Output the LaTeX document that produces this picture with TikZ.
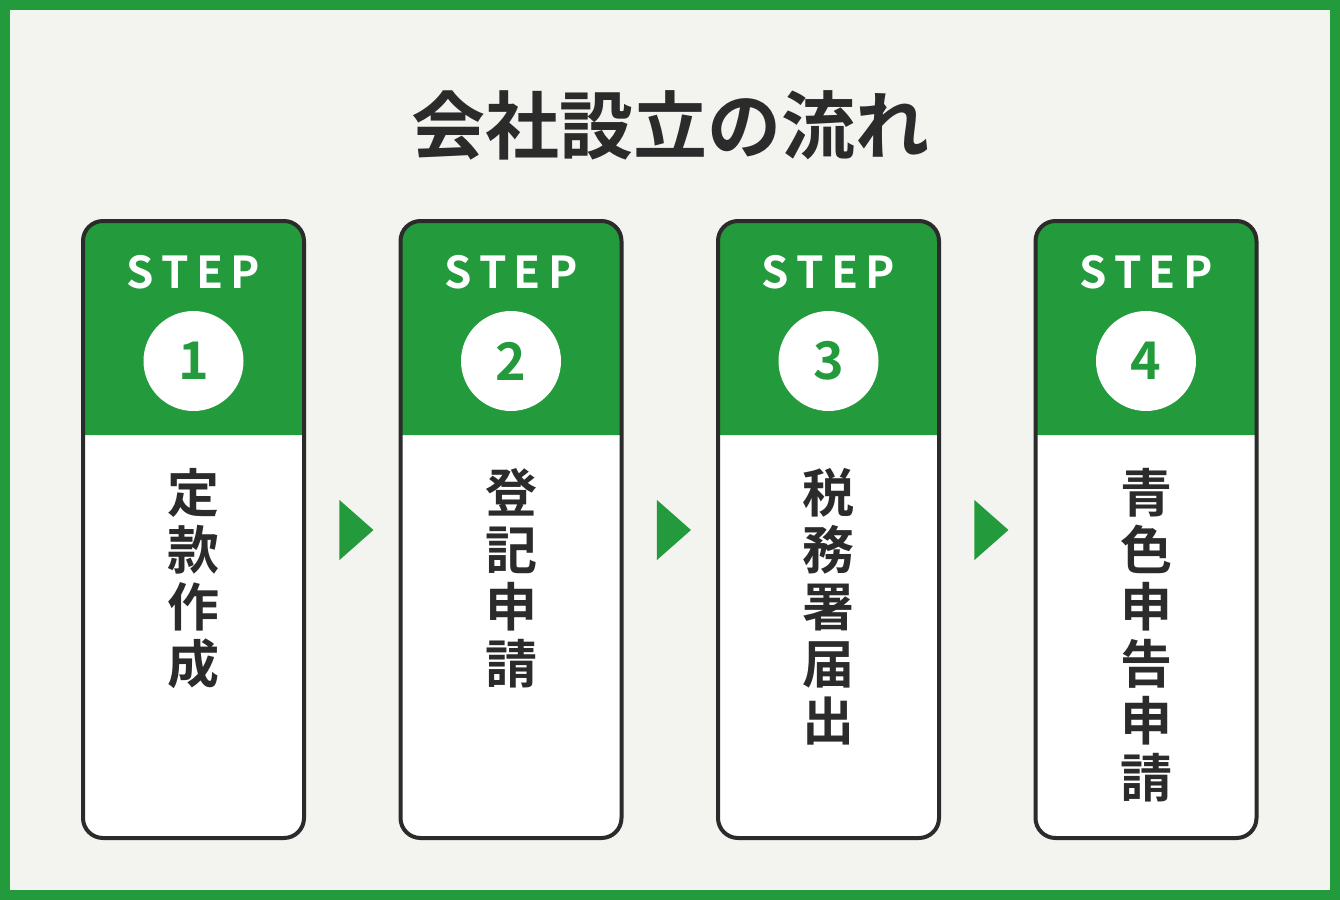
\documentclass[tikz,border=0pt]{standalone}
\usepackage{fontspec}
\newfontfamily\jp{Noto Sans CJK JP}[UprightFont=* Bold]
\usetikzlibrary{positioning,shapes.geometric}
\definecolor{stepgreen}{HTML}{239A3B}
\definecolor{paper}{HTML}{F3F3EF}
\definecolor{ink}{HTML}{2B2B2B}
\tikzset{
  stepnum/.style={circle,fill=white,minimum size=50pt,inner sep=0pt,text=stepgreen,font=\jp\fontsize{26}{26}\selectfont},
  steplabel/.style={text=white,font=\jp\fontsize{22}{22}\selectfont},
  vtext/.style={text=ink,align=center,anchor=north,inner sep=0pt,font=\jp\fontsize{26}{28.5}\selectfont},
  nextarrow/.style={isosceles triangle,fill=stepgreen,minimum height=17pt,minimum width=30pt,inner sep=0pt,isosceles triangle stretches}
}
\begin{document}
\begin{tikzpicture}[x=0.5pt,y=-0.5pt]
\useasboundingbox (0,0) rectangle (1340,900);
\fill[stepgreen] (0,0) rectangle (1340,900);
\fill[paper] (10,10) rectangle (1330,890);
\node[text=ink,font=\jp\fontsize{37}{37}\selectfont] (title) at (670,125) {会社設立の流れ};
% cards
\foreach \i/\txt in {1/{定\\款\\作\\成},2/{登\\記\\申\\請},3/{税\\務\\署\\届\\出},4/{青\\色\\申\\告\\申\\請}}{
  \pgfmathsetmacro{\l}{83+(\i-1)*317.5}
  \pgfmathsetmacro{\r}{\l+221}
  \pgfmathsetmacro{\c}{\l+110.5}
  \fill[white,rounded corners=10pt] (\l,221) rectangle (\r,838);
  \fill[stepgreen,rounded corners=10pt] (\l,435) -- (\l,221) -- (\r,221) [sharp corners] -- (\r,435) -- cycle;
  \draw[ink,line width=2pt,rounded corners=10pt] (\l,221) rectangle (\r,838);
  \node[steplabel] (step\i) at (\c,272) {S\,T\,E\,P};
  \node[stepnum] (num\i) at (\c,361) {\i};
  \node[vtext] (name\i) at (\c,468) {\txt};
}
% arrows
\foreach \i in {1,2,3}{
  \pgfmathsetmacro{\ax}{353+(\i-1)*317.5}
  \node[nextarrow] (arrow\i) at (\ax,530) {};
}
\end{tikzpicture}
\end{document}
